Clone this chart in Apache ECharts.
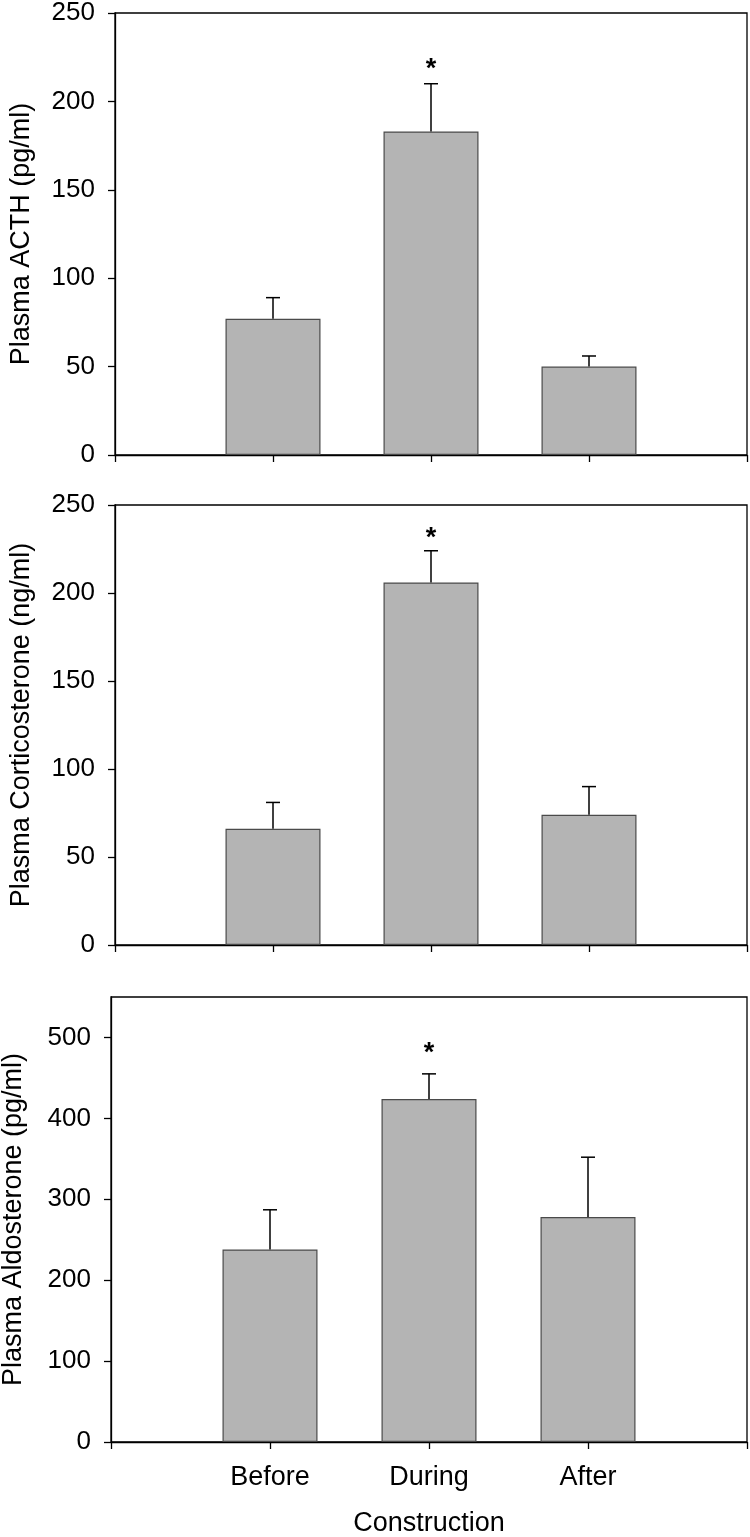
<!DOCTYPE html>
<html>
<head>
<meta charset="utf-8">
<script src="https://cdn.jsdelivr.net/npm/echarts@6/dist/echarts.min.js"></script>
<style>
html,body{margin:0;padding:0;background:#fff;}
#chart{width:750px;height:1537px;}
</style>
</head>
<body>
<div id="chart"></div>
<script>
// ---- data ----
const categories = ['', 'Before', 'During', 'After', ''];
const xAxisTitle = 'Construction';

const acthMean = [77, 183, 50];
const acthSEM  = [12, 27, 6];
const acthStar = [false, true, false];

const corticoMean = [66, 206, 74];
const corticoSEM  = [15, 18, 16];
const corticoStar = [false, true, false];

const aldoMean = [238, 424, 278];
const aldoSEM  = [49, 31, 74];
const aldoStar = [false, true, false];

const yTitles = ['Plasma ACTH (pg/ml)', 'Plasma Corticosterone (ng/ml)', 'Plasma Aldosterone (pg/ml)'];
const yTicks1 = [0, 50, 100, 150, 200, 250];
const yTicks2 = [0, 50, 100, 150, 200, 250];
const yTicks3 = [0, 100, 200, 300, 400, 500];

// ---- layout / style ----
const FONT = 'Liberation Sans, Arial, sans-serif';
const grids = [
  {left: 115, width: 632, top: 13, height: 442},
  {left: 115, width: 632, top: 505, height: 440},
  {left: 111, width: 636, top: 997, height: 445}
];
const yMax = [250, 250, 550];
const yInterval = [50, 50, 100];
const yTickSets = [yTicks1, yTicks2, yTicks3];
const yNameGap = [80, 80, 84];
const starGap = [20, 18, 26];
const panels = [
  {mean: acthMean, sem: acthSEM, star: acthStar},
  {mean: corticoMean, sem: corticoSEM, star: corticoStar},
  {mean: aldoMean, sem: aldoSEM, star: aldoStar}
];

const chart = echarts.init(document.getElementById('chart'), null, {renderer: 'canvas'});

const grid = grids.map(g => Object.assign({}, g, {
  show: true, borderColor: '#000', borderWidth: 1.3, backgroundColor: 'transparent',
  containLabel: false, outerBoundsMode: 'none'
}));

const xAxis = grids.map((g, i) => ({
  type: 'category',
  gridIndex: i,
  data: categories,
  boundaryGap: false,
  axisLine: {show: true, lineStyle: {color: '#000', width: 1.3}},
  axisTick: {show: true, inside: false, length: 7, lineStyle: {color: '#000', width: 1.3}, alignWithLabel: true},
  axisLabel: {show: i === 2, color: '#000', fontFamily: FONT, fontSize: 27, margin: 22, interval: 0},
  name: i === 2 ? xAxisTitle : '',
  nameLocation: 'middle',
  nameGap: 68,
  nameTextStyle: {color: '#000', fontFamily: FONT, fontSize: 27},
  splitLine: {show: false}
}));

const yAxis = grids.map((g, i) => ({
  type: 'value',
  gridIndex: i,
  min: 0,
  max: yMax[i],
  interval: yInterval[i],
  axisLine: {show: true, lineStyle: {color: '#000', width: 1.3}},
  axisTick: {show: true, inside: false, length: 7, lineStyle: {color: '#000', width: 1.3}, customValues: yTickSets[i]},
  axisLabel: {color: '#000', fontFamily: FONT, fontSize: 26, margin: 20, customValues: yTickSets[i]},
  splitLine: {show: false},
  name: yTitles[i],
  nameLocation: 'middle',
  nameGap: yNameGap[i],
  nameRotate: 90,
  nameTextStyle: {color: '#000', fontFamily: FONT, fontSize: 27}
}));

const series = [];
panels.forEach((p, i) => {
  const barData = ['-'].concat(p.mean).concat(['-']);
  series.push({
    type: 'bar',
    xAxisIndex: i, yAxisIndex: i,
    data: barData,
    barWidth: 95,
    itemStyle: {color: '#b4b4b4', borderColor: '#4a4a4a', borderWidth: 1.2},
    silent: true,
    animation: false
  });
  const errData = p.mean.map((m, k) => [k + 1, m, m + p.sem[k], p.star[k] ? 1 : 0]);
  series.push({
    type: 'custom',
    xAxisIndex: i, yAxisIndex: i,
    data: errData,
    animation: false,
    silent: true,
    z: 5,
    renderItem: function (params, api) {
      const x = api.value(0);
      const base = api.coord([x, api.value(1)]);
      const top = api.coord([x, api.value(2)]);
      const children = [
        {type: 'line', shape: {x1: base[0], y1: base[1], x2: top[0], y2: top[1]}, style: {stroke: '#000', lineWidth: 1.5}},
        {type: 'line', shape: {x1: top[0] - 7, y1: top[1], x2: top[0] + 7, y2: top[1]}, style: {stroke: '#000', lineWidth: 1.5}}
      ];
      if (api.value(3) === 1) {
        children.push({type: 'text', x: top[0], y: top[1] - starGap[i] + 6,
          style: {text: '*', fill: '#000', font: 'bold 27px ' + FONT, align: 'center', verticalAlign: 'middle'}});
      }
      return {type: 'group', children: children};
    }
  });
});

chart.setOption({
  animation: false,
  backgroundColor: '#fff',
  grid: grid,
  xAxis: xAxis,
  yAxis: yAxis,
  series: series
});
</script>
</body>
</html>
